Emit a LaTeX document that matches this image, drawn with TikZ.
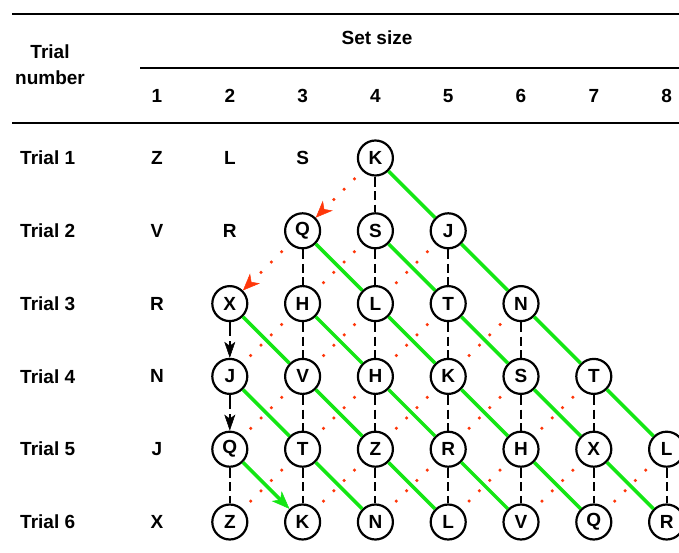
\documentclass[tikz,border=0pt]{standalone}
\usepackage{fontspec}
\setmainfont{Liberation Sans}
\usetikzlibrary{arrows.meta}

\definecolor{verde}{RGB}{20,230,20}
\definecolor{rojo}{RGB}{255,55,10}

\begin{document}
\begin{tikzpicture}[x=1pt,y=-1pt,
	every node/.style={font=\fontsize{19}{22}\selectfont\bfseries},
	letra/.style={circle,draw,line width=2.2pt,minimum size=35pt,inner sep=0pt,fill=white},
	regla/.style={line width=2.5pt},
	vertical/.style={line width=2pt,dash pattern=on 10pt off 4.5pt on 9pt off 4.5pt on 30pt},
	flecha/.style={line width=2pt,dash pattern=on 14pt off 5pt on 40pt,-{Stealth[length=16pt,width=11pt,inset=4pt,line width=0.5pt]}},
	diagonal/.style={draw=verde,line width=3.5pt},
	puntos/.style={draw=rojo,line width=3.5pt,line cap=round,dash pattern=on 0pt off 14.6pt,dash phase=3.6pt}]
  \path[use as bounding box] (0,0) rectangle (679,553);

	% Cabecera
	\draw[regla] (12,14) -- (679,14);
	\draw[regla] (140,68) -- (679,68);
	\draw[regla] (12,123) -- (679,123);
	\node[align=center] (cab) at (50,64.5) {Trial\\[4pt]number};
	\node (tam) at (377,38) {Set size};
	\node (n1) at (157,96) {1};
	\node (n2) at (229.8,96) {2};
	\node (n3) at (302.6,96) {3};
	\node (n4) at (375.4,96) {4};
	\node (n5) at (448.2,96) {5};
	\node (n6) at (521,96) {6};
	\node (n7) at (593.8,96) {7};
	\node (n8) at (666.6,96) {8};

	% Ensayos
	\node[anchor=west,inner sep=0pt] (t1) at (20,158) {Trial 1};
	\node[anchor=west,inner sep=0pt] (t2) at (20,230.8) {Trial 2};
	\node[anchor=west,inner sep=0pt] (t3) at (20,303.6) {Trial 3};
	\node[anchor=west,inner sep=0pt] (t4) at (20,376.4) {Trial 4};
	\node[anchor=west,inner sep=0pt] (t5) at (20,449.2) {Trial 5};
	\node[anchor=west,inner sep=0pt] (t6) at (20,522) {Trial 6};

	% Letras sueltas
	\node (s1t1) at (157,158) {Z};
	\node (s1t2) at (157,230.8) {V};
	\node (s1t3) at (157,303.6) {R};
	\node (s1t4) at (157,376.4) {N};
	\node (s1t5) at (157,449.2) {J};
	\node (s1t6) at (157,522) {X};
	\node (s2t1) at (229.8,158) {L};
	\node (s2t2) at (229.8,230.8) {R};
	\node (s3t1) at (302.6,158) {S};

	% Circulos
	\node[letra] (s2t3) at (229.8,303.6) {X};
	\node[letra] (s2t4) at (229.8,376.4) {J};
	\node[letra] (s2t5) at (229.8,449.2) {Q};
	\node[letra] (s2t6) at (229.8,522) {Z};

	\node[letra] (s3t2) at (302.6,230.8) {Q};
	\node[letra] (s3t3) at (302.6,303.6) {H};
	\node[letra] (s3t4) at (302.6,376.4) {V};
	\node[letra] (s3t5) at (302.6,449.2) {T};
	\node[letra] (s3t6) at (302.6,522) {K};

	\node[letra] (s4t1) at (375.4,158) {K};
	\node[letra] (s4t2) at (375.4,230.8) {S};
	\node[letra] (s4t3) at (375.4,303.6) {L};
	\node[letra] (s4t4) at (375.4,376.4) {H};
	\node[letra] (s4t5) at (375.4,449.2) {Z};
	\node[letra] (s4t6) at (375.4,522) {N};

	\node[letra] (s5t2) at (448.2,230.8) {J};
	\node[letra] (s5t3) at (448.2,303.6) {T};
	\node[letra] (s5t4) at (448.2,376.4) {K};
	\node[letra] (s5t5) at (448.2,449.2) {R};
	\node[letra] (s5t6) at (448.2,522) {L};

	\node[letra] (s6t3) at (521,303.6) {N};
	\node[letra] (s6t4) at (521,376.4) {S};
	\node[letra] (s6t5) at (521,449.2) {H};
	\node[letra] (s6t6) at (521,522) {V};

	\node[letra] (s7t4) at (593.8,376.4) {T};
	\node[letra] (s7t5) at (593.8,449.2) {X};
	\node[letra] (s7t6) at (593.8,522) {Q};

	\node[letra] (s8t5) at (666.6,449.2) {L};
	\node[letra] (s8t6) at (666.6,522) {R};

	% Lineas verticales
	\draw[flecha] (s2t3.south) -- (s2t4.north);
	\draw[flecha] (s2t4.south) -- (s2t5.north);
	\draw[vertical] (s2t5.south) -- (s2t6.north);
	\draw[vertical] (s3t2.south) -- (s3t3.north);
	\draw[vertical] (s3t3.south) -- (s3t4.north);
	\draw[vertical] (s3t4.south) -- (s3t5.north);
	\draw[vertical] (s3t5.south) -- (s3t6.north);
	\draw[vertical] (s4t1.south) -- (s4t2.north);
	\draw[vertical] (s4t2.south) -- (s4t3.north);
	\draw[vertical] (s4t3.south) -- (s4t4.north);
	\draw[vertical] (s4t4.south) -- (s4t5.north);
	\draw[vertical] (s4t5.south) -- (s4t6.north);
	\draw[vertical] (s5t2.south) -- (s5t3.north);
	\draw[vertical] (s5t3.south) -- (s5t4.north);
	\draw[vertical] (s5t4.south) -- (s5t5.north);
	\draw[vertical] (s5t5.south) -- (s5t6.north);
	\draw[vertical] (s6t3.south) -- (s6t4.north);
	\draw[vertical] (s6t4.south) -- (s6t5.north);
	\draw[vertical] (s6t5.south) -- (s6t6.north);
	\draw[vertical] (s7t4.south) -- (s7t5.north);
	\draw[vertical] (s7t5.south) -- (s7t6.north);
	\draw[vertical] (s8t5.south) -- (s8t6.north);

	% Lineas verdes
	\draw[diagonal] (s4t1) -- (s5t2);
	\draw[diagonal] (s3t2) -- (s4t3);
	\draw[diagonal] (s4t2) -- (s5t3);
	\draw[diagonal] (s5t2) -- (s6t3);
	\draw[diagonal] (s2t3) -- (s3t4);
	\draw[diagonal] (s3t3) -- (s4t4);
	\draw[diagonal] (s4t3) -- (s5t4);
	\draw[diagonal] (s5t3) -- (s6t4);
	\draw[diagonal] (s6t3) -- (s7t4);
	\draw[diagonal] (s2t4) -- (s3t5);
	\draw[diagonal] (s3t4) -- (s4t5);
	\draw[diagonal] (s4t4) -- (s5t5);
	\draw[diagonal] (s5t4) -- (s6t5);
	\draw[diagonal] (s6t4) -- (s7t5);
	\draw[diagonal] (s7t4) -- (s8t5);
	\draw[diagonal,-{Stealth[length=18pt,width=14pt,inset=5pt,line width=0.5pt]}] (s2t5) -- (s3t6);
	\draw[diagonal] (s3t5) -- (s4t6);
	\draw[diagonal] (s4t5) -- (s5t6);
	\draw[diagonal] (s5t5) -- (s6t6);
	\draw[diagonal] (s6t5) -- (s7t6);
	\draw[diagonal] (s7t5) -- (s8t6);

	% Puntos rojos
	\draw[puntos,-{Stealth[length=17pt,width=14pt,inset=5pt,line width=0.5pt]}] (s4t1) -- (s3t2);
	\draw[puntos,-{Stealth[length=17pt,width=14pt,inset=5pt,line width=0.5pt]}] (s3t2) -- (s2t3);
	\draw[puntos] (s4t2) -- (s3t3);
	\draw[puntos] (s5t2) -- (s4t3);
	\draw[puntos] (s3t3) -- (s2t4);
	\draw[puntos] (s4t3) -- (s3t4);
	\draw[puntos] (s5t3) -- (s4t4);
	\draw[puntos] (s6t3) -- (s5t4);
	\draw[puntos] (s3t4) -- (s2t5);
	\draw[puntos] (s4t4) -- (s3t5);
	\draw[puntos] (s5t4) -- (s4t5);
	\draw[puntos] (s6t4) -- (s5t5);
	\draw[puntos] (s7t4) -- (s6t5);
	\draw[puntos] (s3t5) -- (s2t6);
	\draw[puntos] (s4t5) -- (s3t6);
	\draw[puntos] (s5t5) -- (s4t6);
	\draw[puntos] (s6t5) -- (s5t6);
	\draw[puntos] (s7t5) -- (s6t6);
	\draw[puntos] (s8t5) -- (s7t6);
\end{tikzpicture}
\end{document}
